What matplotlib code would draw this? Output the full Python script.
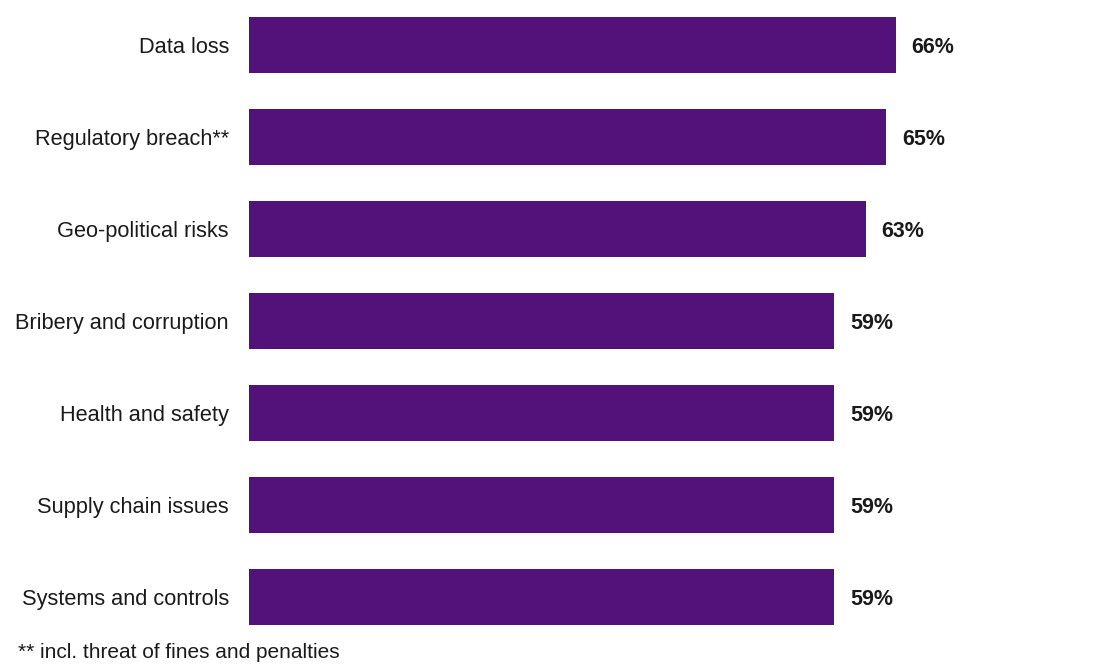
import matplotlib
matplotlib.use("Agg")
from matplotlib import pyplot as plt

# data
kategorie = ["Data loss", "Regulatory breach**", "Geo-political risks",
             "Bribery and corruption", "Health and safety",
             "Supply chain issues", "Systems and controls"]
hodnoty = [66.0, 65.0, 62.9, 59.7, 59.7, 59.7, 59.7]
popisky = ["66%", "65%", "63%", "59%", "59%", "59%", "59%"]
poznamka = "** incl. threat of fines and penalties"

plt.rcParams['font.family'] = ['Liberation Sans', 'DejaVu Sans']

fig = plt.figure(figsize=(10.96, 6.70), dpi=100)
ax = fig.add_axes([249 / 1096, 0, 1 - 249 / 1096, 1])

y = list(range(len(kategorie)))
ax.barh(y, hodnoty, height=0.61, color="#52127A")

for i, (v, t) in enumerate(zip(hodnoty, popisky)):
    ax.text(v + 1.6, i + 0.025, t, va="center", ha="left", fontsize=15.5,
            fontweight="bold", color="#1a1a1a")

ax.set_yticks(y)
ax.set_yticklabels(kategorie, fontsize=15.7, color="#1a1a1a")
ax.tick_params(axis="y", length=0, pad=14.4)
ax.set_xticks([])
ax.set_xlim(0, 86.4)
ax.set_ylim(625 / 92, -45 / 92)
for s in ax.spines.values():
    s.set_visible(False)

fig.text(18 / 1096, 1 - 653 / 670, poznamka, fontsize=15, va="center",
         ha="left", color="#1a1a1a")

fig.savefig("out.png", dpi=100)
